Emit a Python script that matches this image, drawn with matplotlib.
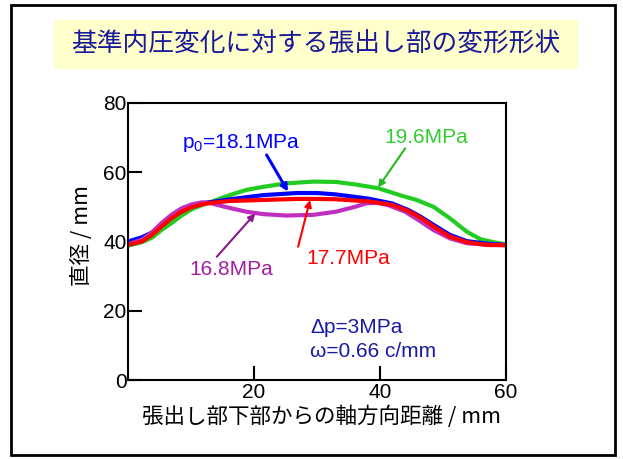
import matplotlib
matplotlib.use('Agg')
import matplotlib.pyplot as plt
from matplotlib.patches import Rectangle

plt.rcParams['font.family'] = ['Liberation Sans', 'Noto Sans CJK JP', 'DejaVu Sans']
plt.rcParams['mathtext.fontset'] = 'custom'
plt.rcParams['mathtext.rm'] = 'Liberation Sans'

# データ (軸方向距離 mm, 直径 mm)
x_196 = [0, 2.2, 3.8, 5.3, 6.9, 8.5, 10.1, 11.7, 13.3, 15.4, 17.0, 18.8, 21.5, 25.2, 29.4, 33.0,
         36.0, 39.7, 43.3, 45.8, 48.5, 51.1, 53.8, 55.9, 58.0, 60]
d_196 = [38.8, 39.8, 41.1, 43.3, 45.3, 47.5, 49.3, 50.5, 51.5, 52.9, 53.9, 54.9, 55.8, 56.8, 57.3, 57.2,
         56.5, 55.4, 53.3, 52.0, 50.0, 46.7, 42.8, 40.7, 39.8, 39.2]

x_181 = [0, 2.2, 3.8, 5.3, 6.9, 8.5, 10.1, 11.7, 13.3, 16.2, 21.5, 26.8, 30.0, 33.0, 38.1, 41.9,
         44.5, 46.6, 48.5, 51.1, 53.8, 56.9, 60]
d_181 = [40.0, 41.2, 42.6, 44.8, 47.2, 49.2, 50.5, 51.1, 51.4, 52.2, 53.4, 54.0, 54.0, 53.6, 52.4, 51.0,
         49.1, 47.0, 44.8, 41.9, 40.1, 39.4, 39.0]

x_168 = [0, 2.2, 3.8, 5.3, 6.9, 8.5, 10.1, 11.7, 13.3, 15.4, 18.8, 21.5, 25.2, 29.4, 33.0, 36.0,
         37.8, 39.5, 41.3, 44.0, 46.1, 48.5, 51.1, 53.8, 56.9, 60]
d_168 = [39.2, 40.5, 42.6, 45.3, 47.7, 49.6, 50.7, 51.3, 51.0, 50.0, 48.6, 47.9, 47.5, 47.7, 48.6, 50.0,
         51.0, 51.2, 50.5, 48.6, 46.2, 43.3, 40.9, 39.5, 39.1, 39.0]

x_177 = [0, 2.2, 3.8, 5.3, 6.9, 8.5, 10.1, 11.7, 13.3, 16.2, 21.5, 26.8, 30.0, 33.0, 38.1, 41.9,
         44.5, 46.6, 48.5, 51.1, 53.8, 56.9, 60]
d_177 = [39.0, 40.0, 41.9, 44.3, 46.7, 48.6, 49.9, 50.7, 51.2, 51.7, 52.0, 52.3, 52.3, 52.2, 51.6, 50.6,
         48.8, 46.7, 44.3, 41.4, 39.8, 39.0, 38.9]

fig = plt.figure(figsize=(6.23, 4.59), dpi=100)

# 外枠とタイトル
fig.patches.append(Rectangle((11/623, 1-455/459), 604/623, 450/459, transform=fig.transFigure,
                             facecolor='none', edgecolor='black', linewidth=2))
fig.patches.append(Rectangle((54/623, 1-69/459), 524/623, 49/459, transform=fig.transFigure,
                             facecolor='#ffffcc', edgecolor='none'))
fig.text(316/623, 1-45/459, '基準内圧変化に対する張出し部の変形形状', ha='center', va='center',
         fontsize=18.5, color='#1a1a99', family=['Noto Sans CJK JP'])

ax = fig.add_axes([128/623, 79/459, 378/623, 277/459])

ax.plot(x_196, d_196, color='#22cc22', lw=3, solid_joinstyle='round', solid_capstyle='butt')
ax.plot(x_181, d_181, color='#0000ff', lw=3, solid_joinstyle='round', solid_capstyle='butt')
ax.plot(x_168, d_168, color='#c030c0', lw=3, solid_joinstyle='round', solid_capstyle='butt')
ax.plot(x_177, d_177, color='#ff0000', lw=3, solid_joinstyle='round', solid_capstyle='butt')

ax.set_xlim(0, 60)
ax.set_ylim(0, 80)
ax.set_xticks([20, 40, 60])
ax.set_yticks([0, 20, 40, 60, 80])
ax.tick_params(direction='in', length=10, width=1.5, labelsize=15, pad=2)
ax.tick_params(axis='y', pad=1)
for s in ax.spines.values():
    s.set_linewidth(1.5)

# 注記 (ラベルと矢印)
labels = [
    (r'p$_\mathregular{0}$=18.1MPa', (17.9, 68.5), (22.0, 65.0), (25.4, 54.4), '#0000ff', '#0000ff', 2.2),
    ('19.6MPa', (47.4, 70.0), (44.0, 66.9), (39.7, 55.6), '#33cc33', '#22bb22', 1.5),
    ('16.8MPa', (16.4, 31.8), (14.1, 35.6), (20.2, 48.1), '#a020a0', '#8b1a8b', 1.5),
    ('17.7MPa', (35.0, 35.0), (27.0, 38.5), (28.9, 52.0), '#ff0000', '#ff0000', 1.5),
]
for txt, tpos, a0, a1, tc, ac, lw in labels:
    ax.text(tpos[0], tpos[1], txt, ha='center', va='center', fontsize=15, color=tc)
    ax.annotate('', xy=a1, xytext=a0,
                arrowprops=dict(arrowstyle='-|>', color=ac, lw=lw, shrinkA=0, shrinkB=0,
                                mutation_scale=10))

ax.text(28.9, 15.3, 'Δp=3MPa', fontsize=15, color='#1a1aa6', va='center', ha='left')
ax.text(28.9, 8.1, 'ω=0.66 c/mm', fontsize=15, color='#1a1aa6', va='center', ha='left')

fig.text(321/623, 1-417/459, '張出し部下部からの軸方向距離 / mm', ha='center', va='center',
         fontsize=15.5, family=['Noto Sans CJK JP'])
fig.text(82/623, 1-235/459, '直径 / mm', ha='center', va='center', rotation=90,
         fontsize=15.5, family=['Noto Sans CJK JP'])

fig.savefig('out.png', dpi=100)
